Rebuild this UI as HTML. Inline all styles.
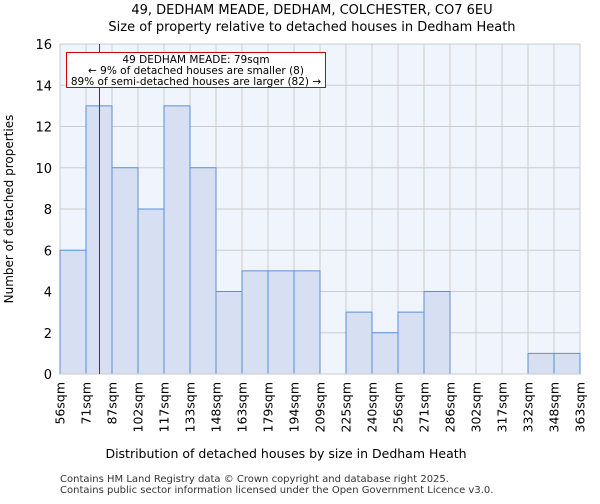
<!DOCTYPE html>
<html><head><meta charset="utf-8"><style>
body{margin:0;background:#fff;font-family:"DejaVu Sans","Liberation Sans",sans-serif}
svg text{font-family:"DejaVu Sans","Liberation Sans",sans-serif}
</style></head><body>
<svg id="c" width="600" height="500" xmlns="http://www.w3.org/2000/svg">
<text x="312" y="14" text-anchor="middle" font-size="13">49, DEDHAM MEADE, DEDHAM, COLCHESTER, CO7 6EU</text>
<text x="312" y="31" text-anchor="middle" font-size="13">Size of property relative to detached houses in Dedham Heath</text>
<rect x="60" y="44" width="520" height="330" fill="#f0f4fc"/>
<g id="grid"></g><g id="bars"></g><g id="axes"></g>
<text x="286" y="458" text-anchor="middle" font-size="12.5">Distribution of detached houses by size in Dedham Heath</text>
<text transform="translate(13,209) rotate(-90)" text-anchor="middle" font-size="12">Number of detached properties</text>
<line x1="99.5" y1="44" x2="99.5" y2="374" stroke="#cc0000" stroke-width="1"/>
<g>
<rect x="66.5" y="52.5" width="259" height="35" fill="#fff" stroke="#cc0000"/>
<text x="196" y="63" text-anchor="middle" font-size="10.5">49 DEDHAM MEADE: 79sqm</text>
<text x="196" y="74" text-anchor="middle" font-size="10.5">← 9% of detached houses are smaller (8)</text>
<text x="196" y="85" text-anchor="middle" font-size="10.5">89% of semi-detached houses are larger (82) →</text>
</g>
<text x="60" y="482" font-size="10" fill="#333">Contains HM Land Registry data © Crown copyright and database right 2025.</text>
<text x="60" y="493" font-size="10" fill="#333">Contains public sector information licensed under the Open Government Licence v3.0.</text>
</svg>
<script>
const edgeLabels=["56sqm","71sqm","87sqm","102sqm","117sqm","133sqm","148sqm","163sqm","179sqm","194sqm","209sqm","225sqm","240sqm","256sqm","271sqm","286sqm","302sqm","317sqm","332sqm","348sqm","363sqm"];
const counts=[6,13,10,8,13,10,4,5,5,5,0,3,2,3,4,0,0,0,1,1];
const yTicks=[0,2,4,6,8,10,12,14,16];
const NS="http://www.w3.org/2000/svg";
const X0=60,X1=580,Y0=374,Y1=44,YMAX=16;
const bw=(X1-X0)/counts.length;
const xs=i=>X0+i*bw;
const ys=v=>Y0-(v/YMAX)*(Y0-Y1);
function mk(t,a,p){const e=document.createElementNS(NS,t);for(const k in a)e.setAttribute(k,a[k]);p.appendChild(e);return e;}
const grid=document.getElementById('grid'),bars=document.getElementById('bars'),axes=document.getElementById('axes');
yTicks.forEach(v=>{
const l=mk('line',{x1:X0,x2:X1,y1:ys(v),y2:ys(v),stroke:'#cccccc'},grid);


const t=mk('text',{x:X0-8,y:ys(v)+5,'text-anchor':'end','font-size':'13'},axes);
t.textContent=v;


});
edgeLabels.forEach((s,i)=>{
const l=mk('line',{x1:xs(i),x2:xs(i),y1:Y1,y2:Y0,stroke:'#cccccc'},grid);


const t=mk('text',{transform:`translate(${xs(i)+4.5},382) rotate(-90)`,'text-anchor':'end','font-size':'12.5'},axes);
t.textContent=s;


});
counts.forEach((c,i)=>{
if(c<=0)return;
const r=mk('rect',{x:xs(i),y:ys(c),width:bw,height:Y0-ys(c),fill:'#d6e0f2',stroke:'#5b8fd6','stroke-width':1},bars);


});
const ax=mk('line',{x1:X0,x2:X1,y1:Y0,y2:Y0,stroke:'#cccccc'},axes);


</script>
</body></html>
